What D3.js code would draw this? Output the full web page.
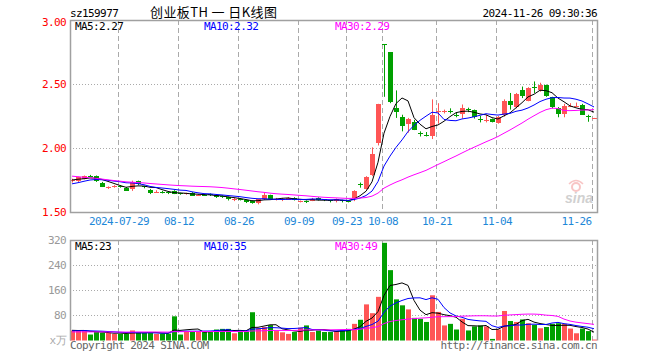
<!DOCTYPE html>
<html>
<head>
<meta charset="utf-8">
<script src="https://cdn.jsdelivr.net/npm/d3@7"></script>
<style>
body { margin: 0; background: #fff; }
text { font-family: "DejaVu Sans Mono", monospace; font-size: 11px; letter-spacing: -0.6px; }
</style>
</head>
<body>
<div id="chart"></div>
<script>
// trading days shown (2024)
var dates = ["07-17","07-18","07-19","07-22","07-23","07-24","07-25","07-26","07-29","07-30","07-31",
  "08-01","08-02","08-05","08-06","08-07","08-08","08-09","08-12","08-13","08-14","08-15","08-16",
  "08-19","08-20","08-21","08-22","08-23","08-26","08-27","08-28","08-29","08-30",
  "09-02","09-03","09-04","09-05","09-06","09-09","09-10","09-11","09-12","09-13","09-18","09-19","09-20",
  "09-23","09-24","09-25","09-26","09-27","09-30",
  "10-08","10-09","10-10","10-11","10-14","10-15","10-16","10-17","10-18","10-21","10-22","10-23","10-24","10-25",
  "10-28","10-29","10-30","10-31","11-01","11-04","11-05","11-06","11-07","11-08","11-11","11-12","11-13","11-14","11-15",
  "11-18","11-19","11-20","11-21","11-22","11-25","11-26"];

var open = [1.74,1.74,1.76,1.785,1.78,1.73,1.69,1.695,1.705,1.69,
  1.68,1.74,1.70,1.675,1.655,1.66,1.655,1.665,1.645,1.64,
  1.65,1.63,1.635,1.64,1.635,1.622,1.615,1.595,1.60,1.59,
  1.585,1.565,1.60,1.633,1.595,1.60,1.60,1.612,1.582,1.585,
  1.588,1.61,1.598,1.59,1.585,1.59,1.588,1.607,1.715,1.685,
  1.79,2.04,2.81,2.75,2.315,2.24,2.19,2.205,2.115,2.105,
  2.095,2.28,2.28,2.29,2.26,2.26,2.305,2.297,2.225,2.218,
  2.225,2.195,2.26,2.37,2.315,2.45,2.37,2.48,2.45,2.49,
  2.395,2.31,2.27,2.325,2.325,2.335,2.25,2.23];
var high = [1.76,1.775,1.785,1.79,1.785,1.735,1.70,1.71,1.71,1.695,
  1.745,1.745,1.705,1.68,1.67,1.665,1.66,1.67,1.65,1.65,
  1.655,1.64,1.64,1.645,1.64,1.63,1.62,1.61,1.605,1.595,
  1.59,1.60,1.65,1.635,1.61,1.61,1.617,1.615,1.59,1.59,
  1.61,1.615,1.60,1.592,1.605,1.595,1.592,1.67,1.73,1.78,
  2.005,2.345,2.81,2.75,2.45,2.26,2.235,2.22,2.13,2.125,
  2.38,2.35,2.30,2.31,2.275,2.34,2.315,2.30,2.25,2.26,
  2.23,2.25,2.38,2.43,2.43,2.48,2.475,2.52,2.51,2.495,
  2.40,2.32,2.345,2.35,2.355,2.345,2.26,2.235];
var low = [1.73,1.735,1.755,1.775,1.735,1.695,1.68,1.69,1.69,1.665,
  1.665,1.71,1.685,1.64,1.65,1.645,1.64,1.64,1.635,1.635,
  1.625,1.625,1.625,1.625,1.61,1.61,1.59,1.585,1.59,1.57,
  1.565,1.56,1.595,1.60,1.59,1.585,1.595,1.59,1.575,1.57,
  1.585,1.59,1.585,1.575,1.575,1.575,1.575,1.585,1.69,1.675,
  1.78,2.02,2.40,2.35,2.235,2.13,2.12,2.14,2.09,2.09,
  2.07,2.19,2.27,2.27,2.24,2.23,2.28,2.23,2.20,2.20,
  2.20,2.19,2.245,2.30,2.31,2.39,2.365,2.43,2.44,2.40,
  2.31,2.24,2.24,2.32,2.32,2.26,2.205,2.23];
var close = [1.75,1.77,1.78,1.78,1.74,1.70,1.695,1.70,1.70,1.67,
  1.735,1.715,1.695,1.65,1.66,1.655,1.645,1.645,1.64,1.645,
  1.63,1.635,1.63,1.63,1.617,1.618,1.597,1.60,1.595,1.576,
  1.572,1.598,1.633,1.602,1.60,1.602,1.612,1.598,1.586,1.58,
  1.605,1.596,1.594,1.58,1.60,1.586,1.58,1.664,1.705,1.776,
  1.953,2.344,2.80,2.36,2.28,2.17,2.23,2.145,2.105,2.10,
  2.26,2.29,2.29,2.285,2.255,2.31,2.30,2.245,2.22,2.222,
  2.20,2.245,2.37,2.335,2.42,2.40,2.47,2.475,2.49,2.405,
  2.32,2.26,2.33,2.33,2.33,2.26,2.245,2.235];
// volume, 万手
var volume = [32,32,32,19,27,25,24,21,21,21,
  32,26,24,25,21,22,22,77,19,30,
  30,27,27,27,35,37,37,23,29,29,
  90,39,43,49,30,26,21,27,41,48,
  27,32,27,27,30,34,37,53,66,115,
  87,139,311,224,131,112,99,72,69,59,
  144,91,48,53,35,69,32,45,48,45,
  5,35,94,62,59,67,55,50,39,43,
  53,55,53,38,23,38,30,3];

// sessions before 07-17, only used to start the moving averages
var histClose = [1.90,1.91,1.89,1.88,1.87,1.88,1.86,1.85,
  1.83,1.81,1.80,1.79,1.78,1.77,1.76,1.75,1.74,1.72,
  1.71,1.70,1.68,1.67,1.68,1.70,1.72,1.74,1.76,1.75,1.75];
var histVolume = [22,25,28,24,26,30,23,27,25,22,
  24,28,26,23,25,27,30,24,22,26,
  28,25,27,33,30,35,31,34,30];

var tickDates = ["07-29","08-12","08-26","09-09","09-23","10-08","10-21","11-04","11-26"];
var tickLabels = ["2024-07-29","08-12","08-26","09-09","09-23","10-08","10-21","11-04","11-26"];
var priceTicks = [1.5, 2.0, 2.5, 3.0];
var volTicks = [80, 160, 240, 320];
var priceLegend = ["MA5:2.27", "MA10:2.32", "MA30:2.29"];
var volLegend = ["MA5:23", "MA10:35", "MA30:49"];

var RED = "#ff5555", GREEN = "#00a000", GRID = "#aaaaaa";
var maColors = ["#000000", "#0000ff", "#ff00ff"];
var maPeriods = [5, 10, 30];

var panelLeft = 70, panelRight = 598, mainTop = 20, mainBottom = 212, volTop = 240, volBottom = 340.5;

var svg = d3.select("#chart").append("svg")
  .attr("width", 660).attr("height", 360);

var x = d3.scalePoint().domain(dates).range([72, 594]);
var y = d3.scaleLinear().domain([1.5, 3.0]).range([mainBottom, mainTop]);
var yv = d3.scaleLinear().domain([0, 320]).range([volBottom, volTop]);

function cx(d) { return Math.round(x(d)); }

// moving average, history in front so lines start at the left edge
function movingAvg(hist, series, n) {
  var all = hist.concat(series), out = [];
  for (var i = hist.length; i < all.length; i++) {
    var s = 0;
    for (var k = i - n + 1; k <= i; k++) s += all[k];
    out.push(s / n);
  }
  return out;
}

// dashed vertical grid in both panels
[[mainTop, mainBottom], [volTop, volBottom]].forEach(function(r) {
  svg.append("g").selectAll("line")
    .data(tickDates)
    .enter().append("line")
      .attr("x1", function(d) { return cx(d) - 1.5; })
      .attr("x2", function(d) { return cx(d) - 1.5; })
      .attr("y1", r[0]).attr("y2", r[1])
      .attr("stroke", GRID).attr("stroke-dasharray", "5,3");
});

// dotted horizontal grid
svg.append("g").selectAll("line")
  .data([2.0, 2.5]).enter().append("line")
    .attr("x1", panelLeft).attr("x2", panelRight)
    .attr("y1", function(d) { return Math.round(y(d)) + 0.5; })
    .attr("y2", function(d) { return Math.round(y(d)) + 0.5; })
    .attr("stroke", GRID).attr("stroke-dasharray", "1,2");
svg.append("g").selectAll("line")
  .data([80, 160, 240]).enter().append("line")
    .attr("x1", panelLeft).attr("x2", panelRight)
    .attr("y1", function(d) { return Math.round(yv(d)) + 0.5; })
    .attr("y2", function(d) { return Math.round(yv(d)) + 0.5; })
    .attr("stroke", GRID).attr("stroke-dasharray", "1,2");

// sina watermark
var wm = svg.append("g").attr("opacity", 0.45);
wm.append("circle").attr("cx", 576).attr("cy", 187).attr("r", 4)
  .attr("fill", "none").attr("stroke", "#f08080").attr("stroke-width", 2);
wm.append("path").attr("d", "M569,184 Q576,177 583,184")
  .attr("fill", "none").attr("stroke", "#f08080").attr("stroke-width", 1.5);
wm.append("text").attr("x", 565).attr("y", 203)
  .style("font-family", "Liberation Sans, sans-serif").style("font-size", "14px")
  .style("font-style", "italic").style("font-weight", "bold").style("letter-spacing", "0")
  .attr("fill", "#999").text("sina");

var data = dates.map(function(d, i) {
  return {date: d, o: open[i], h: high[i], l: low[i], c: close[i], v: volume[i],
          up: close[i] >= open[i]};
});

// candles
var candle = svg.append("g").selectAll("g")
  .data(data).enter().append("g");
candle.append("line")
  .attr("x1", function(d) { return cx(d.date) + 0.5; })
  .attr("x2", function(d) { return cx(d.date) + 0.5; })
  .attr("y1", function(d) { return y(d.h); })
  .attr("y2", function(d) { return y(d.l); })
  .attr("stroke", function(d) { return d.up ? RED : GREEN; });
candle.append("rect")
  .attr("x", function(d) { return cx(d.date) - 2; })
  .attr("width", 5)
  .attr("y", function(d) { return Math.round(y(Math.max(d.o, d.c))); })
  .attr("height", function(d) { return Math.max(1, Math.round(Math.abs(y(d.o) - y(d.c)))); })
  .attr("fill", function(d) { return d.up ? RED : GREEN; });

// volume bars
svg.append("g").selectAll("rect")
  .data(data).enter().append("rect")
    .attr("x", function(d) { return cx(d.date) - 2; })
    .attr("width", 5)
    .attr("y", function(d) { return yv(d.v); })
    .attr("height", function(d) { return volBottom - yv(d.v); })
    .attr("fill", function(d) { return d.up ? RED : GREEN; });

// moving average lines
maPeriods.forEach(function(n, k) {
  var pm = movingAvg(histClose, close, n);
  var vm = movingAvg(histVolume, volume, n);
  svg.append("path")
    .datum(pm)
    .attr("fill", "none").attr("stroke", maColors[k]).attr("stroke-width", 1)
    .attr("d", d3.line()
      .x(function(d, i) { return x(dates[i]); })
      .y(function(d) { return y(d); }));
  svg.append("path")
    .datum(vm)
    .attr("fill", "none").attr("stroke", maColors[k]).attr("stroke-width", 1)
    .attr("d", d3.line()
      .x(function(d, i) { return x(dates[i]); })
      .y(function(d) { return yv(d); }));
});

// panel borders
svg.append("rect")
  .attr("x", panelLeft + 0.5).attr("y", mainTop + 0.5)
  .attr("width", panelRight - panelLeft - 1).attr("height", mainBottom - mainTop)
  .attr("fill", "none").attr("stroke", "#a0a0a0").attr("stroke-width", 1.5);
svg.append("path")
  .attr("d", "M" + (panelLeft + 0.5) + "," + volBottom + "V" + (volTop + 0.5) + "H" + (panelRight - 0.5) + "V" + volBottom)
  .attr("fill", "none").attr("stroke", "#a0a0a0").attr("stroke-width", 1.5);

// axes
var ya = svg.append("g")
  .attr("transform", "translate(" + panelLeft + ",0)")
  .call(d3.axisLeft(y).tickValues(priceTicks).tickFormat(d3.format(".2f")).tickSize(0).tickPadding(4));
ya.select(".domain").remove();
ya.selectAll("text").attr("fill", "#ff0000")
  .attr("y", function(d) { return d === 3.0 ? 2 : 0; });

var va = svg.append("g")
  .attr("transform", "translate(" + panelLeft + ",0)")
  .call(d3.axisLeft(yv).tickValues(volTicks).tickSize(0).tickPadding(4));
va.select(".domain").remove();
va.selectAll("text").attr("fill", "#999");

var xa = svg.append("g")
  .attr("transform", "translate(0," + mainBottom + ")")
  .call(d3.axisBottom(x).tickValues(tickDates)
    .tickFormat(function(d, i) { return tickLabels[i]; }).tickSize(0).tickPadding(5));
xa.select(".domain").remove();
xa.selectAll("text").attr("fill", "#1e88d8")
  .attr("x", function(d, i) { return i === tickDates.length - 1 ? -3 : -1.5; })
  .attr("text-anchor", function(d, i) { return i === tickDates.length - 1 ? "end" : "middle"; });

svg.append("text").attr("x", 66).attr("y", 344).attr("text-anchor", "end")
  .attr("fill", "#aaa").text("x万");

// legends
var legendX = [75, 204, 335];
svg.selectAll(".plg").data(priceLegend).enter().append("text")
  .attr("x", function(d, i) { return legendX[i]; }).attr("y", 30)
  .attr("fill", function(d, i) { return maColors[i]; })
  .text(function(d) { return d; });
svg.selectAll(".vlg").data(volLegend).enter().append("text")
  .attr("x", function(d, i) { return legendX[i]; }).attr("y", 250)
  .attr("fill", function(d, i) { return maColors[i]; })
  .text(function(d) { return d; });

// header and footer
svg.append("text").attr("x", 70).attr("y", 16.5).attr("fill", "#000").text("sz159977");
svg.append("text").attr("x", 150).attr("y", 17)
  .attr("textLength", 127).attr("lengthAdjust", "spacing")
  .style("font-family", "Noto Sans CJK SC").style("font-size", "13px").style("letter-spacing", "0")
  .attr("fill", "#000").text("创业板TH 一 日K线图");
svg.append("text").attr("x", 597).attr("y", 16.5).attr("text-anchor", "end")
  .attr("fill", "#000").text("2024-11-26 09:30:36");
svg.append("text").attr("x", 70).attr("y", 349).attr("fill", "#666").text("Copyright 2024 SINA.COM");
svg.append("text").attr("x", 597).attr("y", 349).attr("text-anchor", "end")
  .attr("fill", "#666").text("http://finance.sina.com.cn");
</script>
</body>
</html>
